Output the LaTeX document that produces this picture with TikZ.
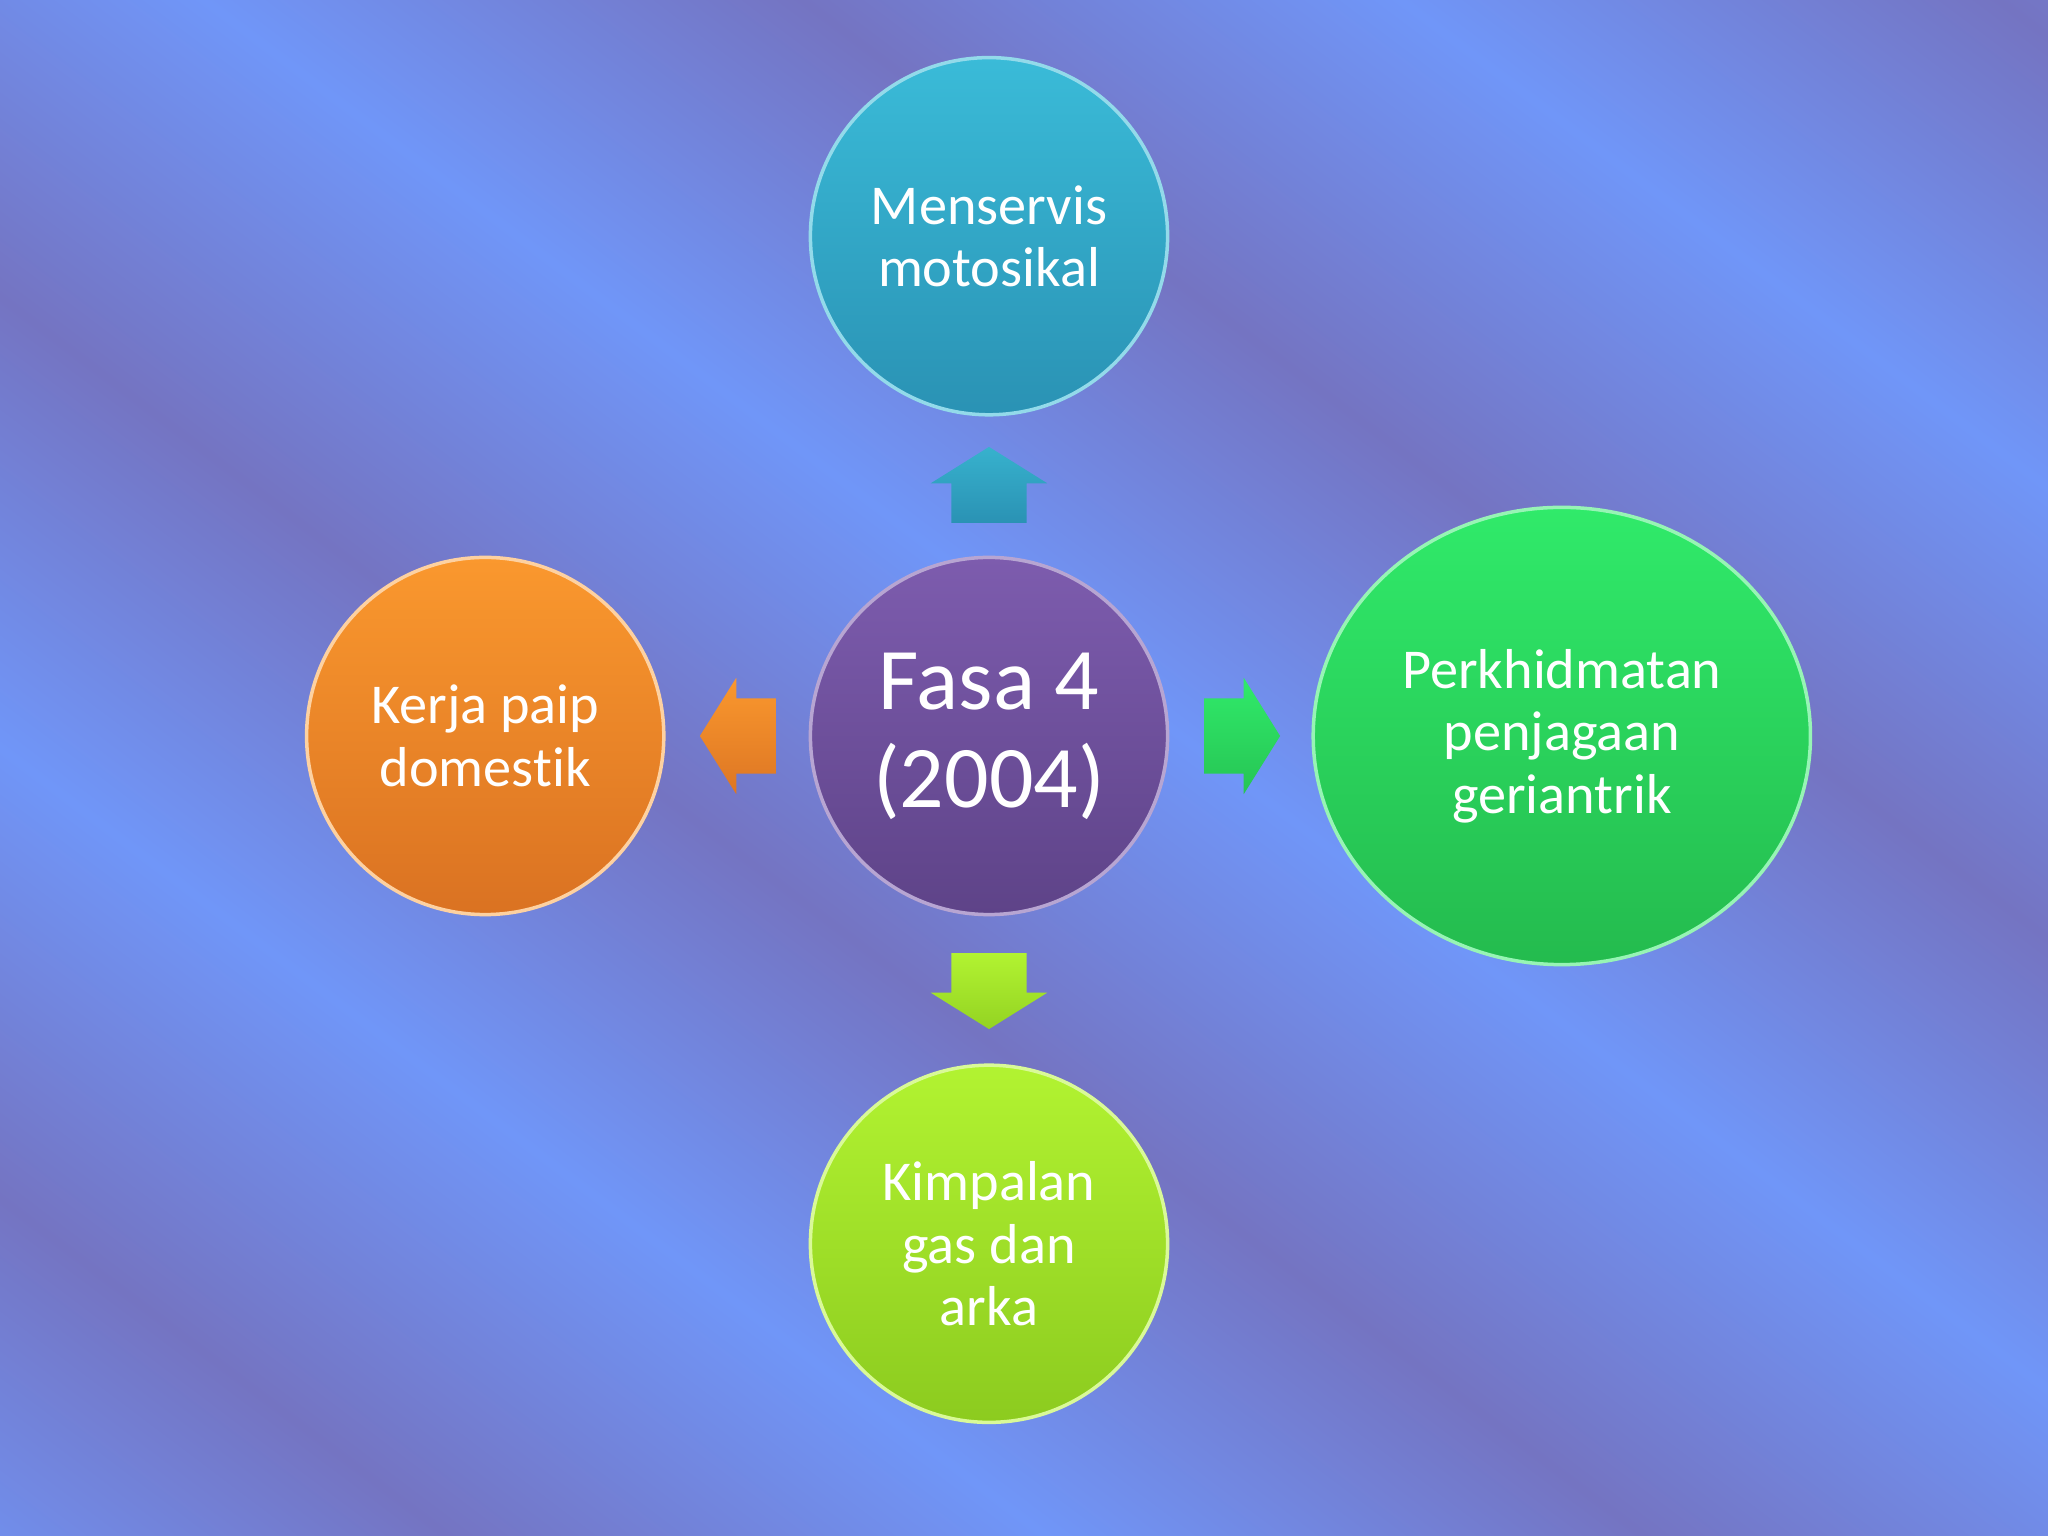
\documentclass[tikz,border=0pt]{standalone}
\usepackage{fontspec}
\setmainfont{Carlito}[Ligatures=NoCommon]
\usetikzlibrary{positioning,calc,shapes.geometric,shapes.arrows}

\definecolor{bgLight}{HTML}{7096F8}
\definecolor{bgDark}{HTML}{7474C2}
\definecolor{tealTop}{HTML}{3ABBD8}
\definecolor{tealBot}{HTML}{2A92B4}
\definecolor{purpTop}{HTML}{7D5CAE}
\definecolor{purpBot}{HTML}{5E4388}
\definecolor{orngTop}{HTML}{FA982E}
\definecolor{orngBot}{HTML}{DA7222}
\definecolor{grnTop}{HTML}{30EA6A}
\definecolor{grnBot}{HTML}{24BB4E}
\definecolor{limeTop}{HTML}{B2F331}
\definecolor{limeBot}{HTML}{8CCB1F}

% diagonal bands of the backdrop
\pgfdeclareverticalshading{bgbands}{100bp}{color(0bp)=(bgLight); color(4bp)=(bgLight);
  color(10bp)=(bgDark); color(16bp)=(bgLight); color(22bp)=(bgDark); color(28bp)=(bgLight);
  color(34bp)=(bgDark); color(40bp)=(bgLight); color(46bp)=(bgDark); color(52bp)=(bgLight);
  color(58bp)=(bgDark); color(64bp)=(bgLight); color(70bp)=(bgDark); color(76bp)=(bgLight);
  color(82bp)=(bgDark); color(88bp)=(bgLight); color(94bp)=(bgDark); color(100bp)=(bgLight)}

\begin{document}
\begin{tikzpicture}[x=0.01cm,y=0.01cm,node distance=1.47cm,
    bubble/.style={circle,minimum size=3.57cm,inner sep=0pt,align=center,
      text=white,line width=0.035cm,font=\fontsize{16}{17.8}\selectfont},
    blockarr/.style={single arrow,minimum height=0.76cm,inner xsep=0pt,
      inner ysep=0.37cm,single arrow head extend=0.205cm,
      single arrow tip angle=116,anchor=tail}]
  \useasboundingbox (0,0) rectangle (2048,1536);
  \begin{scope}
    \clip (0,0) rectangle (2048,1536);
    \begin{scope}[transform canvas={rotate around={-37:(1024,768)}}]
      \fill[shading=bgbands] (-476,-732) rectangle (2524,2268);
    \end{scope}
  \end{scope}

  \node[bubble, top color=purpTop, bottom color=purpBot, draw=purpTop!55!white,
    font=\fontsize{25}{27.8}\selectfont] (fasa) at (989,800) {Fasa 4\\(2004)};
  \node[bubble, top color=tealTop, bottom color=tealBot, draw=tealTop!55!white]
    (servis) [above=1.39cm of fasa] {Menservis\\motosikal};
  \node[bubble, top color=orngTop, bottom color=orngBot, draw=orngTop!45!white]
    (paip) [left=1.43cm of fasa] {Kerja paip\\domestik};
  \node[bubble, ellipse, minimum width=4.97cm, minimum height=4.57cm,
    top color=grnTop, bottom color=grnBot, draw=grnTop!50!white]
    (jaga) [right=1.42cm of fasa] {Perkhidmatan\\penjagaan\\geriantrik};
  \node[bubble, top color=limeTop, bottom color=limeBot, draw=limeTop!50!white]
    (kimpal) [below=of fasa] {Kimpalan\\gas dan\\arka};

  % block arrows from the centre out to each bubble
  \node[blockarr, rotate=90, top color=tealTop!95!black, bottom color=tealBot]
    (toServis) at ($(fasa.north)+(0,32)$) {};
  \node[blockarr, rotate=180, top color=orngTop, bottom color=orngBot!90!orngTop]
    (toPaip) at ($(fasa.west)+(-32,0)$) {};
  \node[blockarr, top color=grnTop, bottom color=grnBot!80!grnTop]
    (toJaga) at ($(fasa.east)+(34,0)$) {};
  \node[blockarr, rotate=-90, top color=limeTop, bottom color=limeBot!80!limeTop]
    (toKimpal) at ($(fasa.south)+(0,-36)$) {};
\end{tikzpicture}
\end{document}
